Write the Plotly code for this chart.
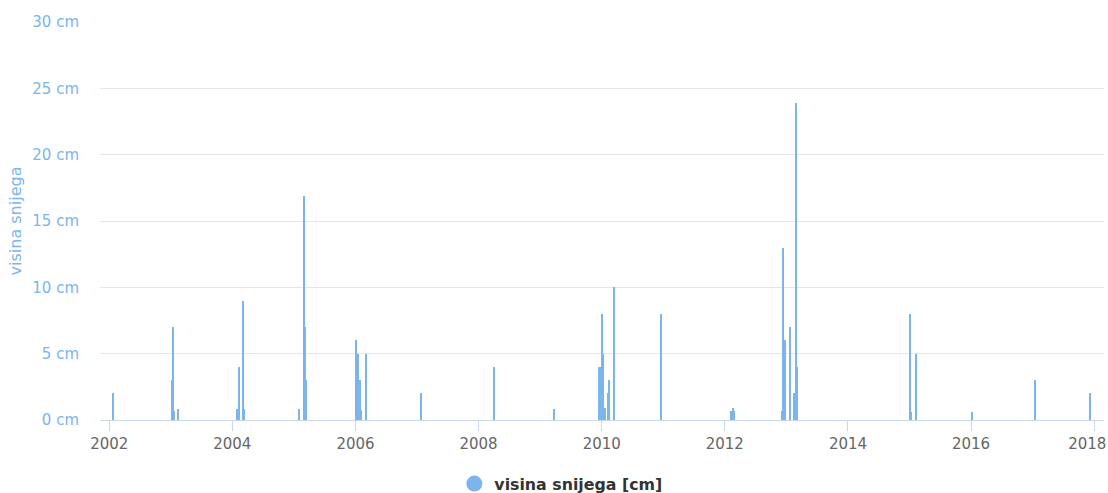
import plotly.graph_objects as go

dates = [
    "2002-01-24",
    "2003-01-08", "2003-01-17", "2003-01-24", "2003-02-13",
    "2004-01-30", "2004-02-08", "2004-03-05", "2004-03-10",
    "2005-02-01", "2005-02-28", "2005-03-08", "2005-03-14",
    "2006-01-02", "2006-01-17", "2006-01-26", "2006-02-04", "2006-03-08",
    "2007-01-28",
    "2008-04-03",
    "2009-03-26",
    "2009-12-19", "2009-12-28", "2010-01-03", "2010-01-12", "2010-01-21",
    "2010-02-08", "2010-02-17", "2010-03-13",
    "2010-12-22",
    "2012-02-08", "2012-02-17", "2012-02-25",
    "2012-12-07", "2012-12-13", "2012-12-22",
    "2013-01-23", "2013-02-16", "2013-02-25", "2013-03-06",
    "2015-01-05", "2015-01-12", "2015-02-07",
    "2016-01-08",
    "2017-01-16",
    "2017-12-08",
]
snow_cm = [
    2,
    3, 7, 0.7, 0.8,
    0.8, 4, 9, 0.8,
    0.8, 16.9, 7, 3,
    6, 5, 3, 0.75, 5,
    2,
    4,
    0.8,
    4, 4, 8, 5, 0.9,
    2, 3, 10,
    8,
    0.7, 0.9, 0.7,
    0.7, 13, 6,
    7, 2, 23.9, 4,
    8, 0.6, 5,
    0.6,
    3,
    2,
]
tick_years = [2002, 2004, 2006, 2008, 2010, 2012, 2014, 2016, 2018]
series_name = "visina snijega [cm]"
y_title = "visina snijega"

BLUE = "#7cb5ec"
DAY_MS = 86400000
X_RANGE = ["2001-11-07", "2018-02-28"]

tickvals = [f"{y}-01-01" for y in tick_years]
ticktext_main = [str(y) for y in tick_years[:-1]] + [""]

fig = go.Figure()
fig.add_trace(go.Bar(
    x=dates, y=snow_cm, name=series_name,
    marker=dict(color=BLUE, line=dict(width=0)),
    width=[8 * DAY_MS] * len(dates),
    showlegend=False,
    hovertemplate="%{x|%d.%m.%Y}<br>%{y} cm<extra></extra>",
))
# legend entry (circle symbol); lives on the overlay axis so that axis is drawn
fig.add_trace(go.Scatter(
    x=[None], y=[None], mode="markers", name=series_name,
    marker=dict(symbol="circle", size=16, color=BLUE),
    showlegend=True, xaxis="x2", yaxis="y",
))

tickfont = dict(size=15, color="#666666")
fig.update_layout(
    width=1108, height=493,
    margin=dict(l=100, r=4, t=22, b=73, autoexpand=False),
    paper_bgcolor="white", plot_bgcolor="white",
    font=dict(family="DejaVu Sans, Lucida Grande, sans-serif", size=15, color="#666666"),
    bargap=0,
    legend=dict(
        orientation="h", x=0.459, xanchor="center", y=-0.1175, yanchor="top",
        font=dict(size=15.8, color="#333333", family="DejaVu Sans, sans-serif", weight="bold"),
        itemsizing="trace",
    ),
    xaxis=dict(
        type="date", range=X_RANGE,
        tickmode="array", tickvals=tickvals, ticktext=ticktext_main,
        showgrid=False, zeroline=False,
        showline=True, linecolor="#ccd6eb", linewidth=1,
        ticks="outside", ticklen=10, tickcolor="#ccd6eb",
        tickfont=tickfont,
        automargin=False,
    ),
    # last year label, shifted left to stay inside the chart (as in the reference)
    xaxis2=dict(
        type="date", range=X_RANGE, overlaying="x", side="bottom", anchor="y",
        tickmode="array", tickvals=tickvals[-1:], ticktext=[str(tick_years[-1])],
        showgrid=False, zeroline=False, showline=False,
        ticks="outside", ticklen=10, tickcolor="rgba(0,0,0,0)",
        tickfont=tickfont, ticklabelshift=-7, ticklabeloverflow="allow",
        automargin=False, fixedrange=True,
    ),
    yaxis=dict(
        range=[0, 30], dtick=5, tick0=0,
        ticksuffix=" cm",
        showgrid=True, gridcolor="#e6e6e6", gridwidth=1,
        zeroline=False, showline=False,
        tickfont=dict(size=15, color=BLUE),
        ticklabelstandoff=20,
        automargin=False,
        title=dict(text=y_title, font=dict(size=16, color=BLUE), standoff=6),
    ),
)

fig.write_html(
    "out.html",
    config={"displayModeBar": False},
    post_script="document.body.style.margin='0';document.body.style.padding='0';",
)
